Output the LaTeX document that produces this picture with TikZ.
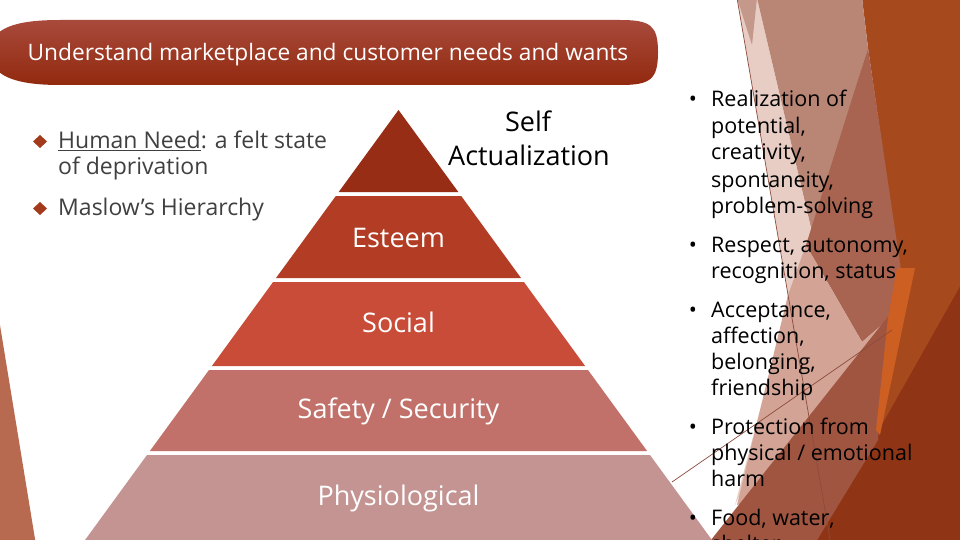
\documentclass[tikz,border=0pt]{standalone}
\usepackage{fontspec}
\setmainfont{Open Sans}
\definecolor{bannerTop}{HTML}{A84A3C}
\definecolor{bannerBot}{HTML}{92290E}
\definecolor{layA}{HTML}{962D14}
\definecolor{layB}{HTML}{B23C24}
\definecolor{layC}{HTML}{C84C38}
\definecolor{layD}{HTML}{C17169}
\definecolor{layE}{HTML}{C39492}
\definecolor{facOrange}{HTML}{A64A1E}
\definecolor{facDark}{HTML}{8F3515}
\definecolor{facPale}{HTML}{E8CDC4}
\definecolor{facRose}{HTML}{B98676}
\definecolor{facMid}{HTML}{A86450}
\definecolor{facRoseLight}{HTML}{D3A495}
\definecolor{facLow}{HTML}{A05541}
\definecolor{facBright}{HTML}{CD5F23}
\definecolor{facStrip}{HTML}{B76A50}
\definecolor{facLine}{HTML}{8C4B3C}
\definecolor{diamondCol}{HTML}{A33A1C}
\definecolor{leftText}{HTML}{404040}
\tikzset{
  facet/.style={draw=none},
  layer/.style={draw=none},
  thinline/.style={draw=facLine, line width=0.7pt},
  pyrlabel/.style={font=\fontsize{27}{30}\selectfont, text=white, anchor=base, inner sep=0pt},
  ltext/.style={font=\fontsize{23}{26}\selectfont, text=leftText, anchor=base west, inner sep=0pt},
  rtext/.style={font=\fontsize{21.5}{26}\selectfont, text=black, anchor=base west, inner sep=0pt},
  rbullet/.style={font=\fontsize{21.5}{26}\selectfont, text=black, anchor=base, inner sep=0pt},
  diam/.style={fill=diamondCol, draw=none}
}
\begin{document}
\begin{tikzpicture}[x=1pt,y=-1pt]
\useasboundingbox (0,0) rectangle (960,540);
\fill[white] (0,0) rectangle (960,540);
% background facets
\fill[facOrange, facet] (862,-2) -- (962,-2) -- (962,545) -- (840,545) -- (900,270) -- (868,48) -- cycle;
\fill[facDark, facet] (962,283) -- (962,545) -- (814,545) -- cycle;
\fill[facPale, facet] (737,-2) -- (757,-2) -- (830,310) -- (735,505) -- (789,300) -- cycle;
\fill[facRose!85!white, facet] (737,-2) -- (757,-2) -- (752,45) -- cycle;
\fill[facRose, facet] (757,-2) -- (862,-2) -- (868,48) -- (812,232) -- cycle;
\fill[facMid, facet] (868,48) -- (901,270) -- (890,318) -- (862,342) -- (806,245) -- cycle;
\fill[facRoseLight, facet] (806,245) -- (862,342) -- (892,316) -- (760,500) -- (737,505) -- (788,295) -- cycle;
\fill[facLow, facet] (707,545) -- (890,314) -- (878,440) -- (814,545) -- cycle;
\fill[facBright, facet] (897,268) -- (915,268) -- (880,435) -- (876,430) -- (888,318) -- cycle;
\fill[facStrip, facet] (-2,313) -- (36,545) -- (-2,545) -- cycle;
\coordinate (la) at (737,-2);
\coordinate (lb) at (831,545);
\coordinate (lc) at (672,482);
\coordinate (ld) at (892,330);
\draw[thinline] (la) -- (lb);
\draw[thinline] (lc) -- (ld);
% banner
\shade[top color=bannerTop, bottom color=bannerBot]
  (60,20) -- (620,20) .. controls (650,20) and (658,25) .. (658,52)
  .. controls (658,80) and (650,85) .. (620,85) -- (60,85)
  .. controls (15,85) and (-10,76) .. (-10,52)
  .. controls (-10,28) and (15,20) .. (60,20) -- cycle;
\node[font=\fontsize{22.7}{26}\selectfont, text=white, anchor=base, inner sep=0pt] (banner) at (328,61) {Understand marketplace and customer needs and wants};
% left bullets
\fill[diam] (40,135) -- (47,141.5) -- (40,148) -- (33,141.5) -- cycle;
\fill[diam] (40,202) -- (47,208.5) -- (40,215) -- (33,208.5) -- cycle;
\node[ltext] (need1) at (58,149) {\underline{Human Need}: a felt state};
\node[ltext] (need2) at (58,175) {of deprivation};
\node[ltext] (maslow) at (58,215) {Maslow’s Hierarchy};
% pyramid
\fill[layA, layer] (398.5,110) -- (458.3,192) -- (338.7,192) -- cycle;
\fill[layB, layer] (335.8,196) -- (461.2,196) -- (521,278) -- (276,278) -- cycle;
\fill[layC, layer] (273.1,282) -- (523.9,282) -- (585.1,366) -- (211.9,366) -- cycle;
\fill[layD, layer] (209,370) -- (588,370) -- (647.1,451) -- (149.9,451) -- cycle;
\fill[layE, layer] (147,455) -- (650,455) -- (715.6,545) -- (81.4,545) -- cycle;
\node[pyrlabel, text=black] (self) at (528,132) {Self};
\node[pyrlabel, text=black] (actual) at (529,166) {Actualization};
\node[pyrlabel] (esteem) at (398.5,247) {Esteem};
\node[pyrlabel] (social) at (398.5,332) {Social};
\node[pyrlabel] (safety) at (398.5,418) {Safety / Security};
\node[pyrlabel] (physio) at (398.5,505) {Physiological};
% right bullets
\node[rbullet] (b1) at (693,107) {•};
\node[rtext] (r1) at (711,107) {Realization of};
\node[rtext] (r2) at (711,134) {potential,};
\node[rtext] (r3) at (711,160) {creativity,};
\node[rtext] (r4) at (711,187) {spontaneity,};
\node[rtext] (r5) at (711,213) {problem-solving};
\node[rbullet] (b2) at (693,252) {•};
\node[rtext] (r6) at (711,252) {Respect, autonomy,};
\node[rtext] (r7) at (711,278) {recognition, status};
\node[rbullet] (b3) at (693,317) {•};
\node[rtext] (r8) at (711,317) {Acceptance,};
\node[rtext] (r9) at (711,343) {affection,};
\node[rtext] (r10) at (711,369) {belonging,};
\node[rtext] (r11) at (711,395) {friendship};
\node[rbullet] (b4) at (693,434) {•};
\node[rtext] (r12) at (711,434) {Protection from};
\node[rtext] (r13) at (711,460) {physical / emotional};
\node[rtext] (r14) at (711,486) {harm};
\node[rbullet] (b5) at (693,525) {•};
\node[rtext] (r15) at (711,525) {Food, water,};
\node[rtext] (r16) at (711,551) {shelter};
\end{tikzpicture}
\end{document}
